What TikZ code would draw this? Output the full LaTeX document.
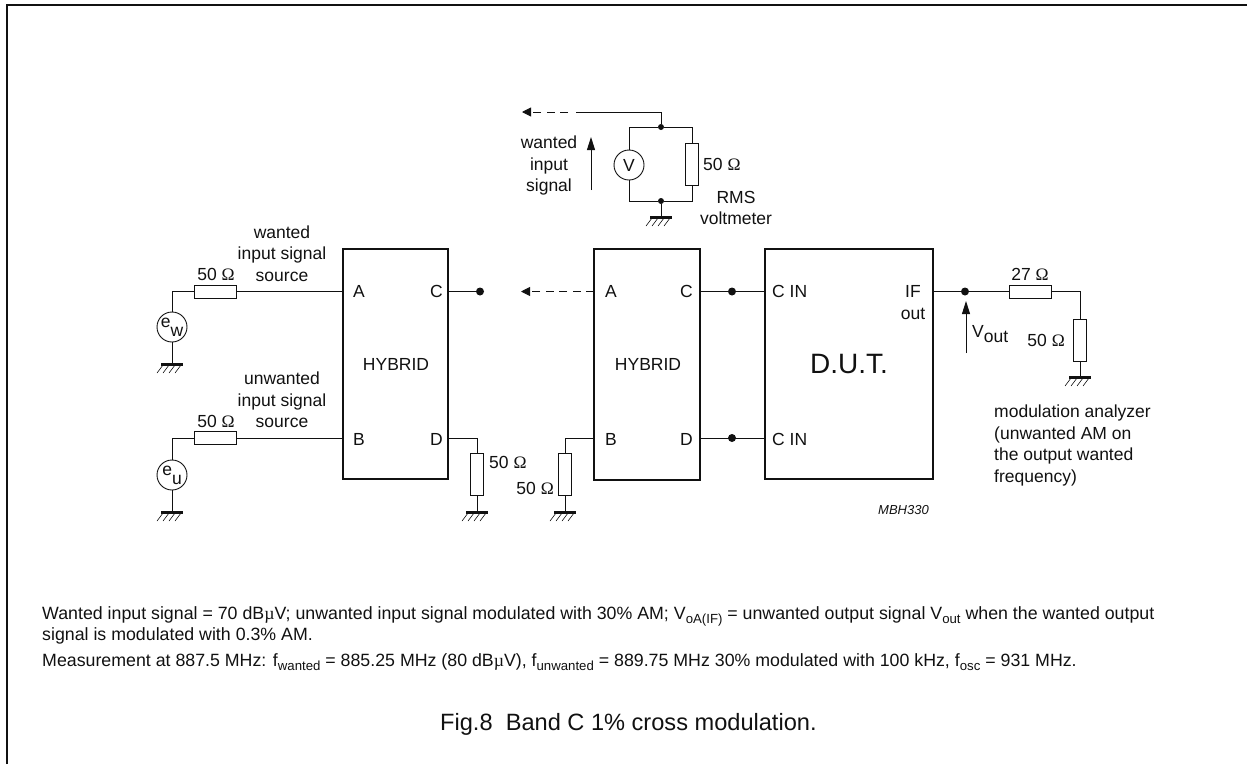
\documentclass[tikz,border=0pt]{standalone}
\usepackage{fontspec}
\setmainfont{Liberation Sans}
\newfontfamily\symfont{Liberation Serif}
\usetikzlibrary{arrows.meta}
\definecolor{ink}{HTML}{111111}
\newcommand{\Ohm}{{\symfont Ω}}
\newcommand{\Mu}{{\symfont µ}}
\newcommand{\Sb}[1]{\raisebox{-0.28em}{\fontsize{13.2}{13.2}\selectfont #1}}
\newcommand{\Lo}[1]{\raisebox{-0.3em}{#1}}
\tikzset{
  lbl/.style={inner sep=0pt, align=center, text=ink, font=\fontsize{17.5}{21.5}\selectfont},
  note/.style={lbl, anchor=base west, align=left, font=\fontsize{17.77}{17.77}\selectfont},
  block/.style={draw=ink, line width=2pt, fill=white, rectangle, inner sep=0pt},
  resh/.style={draw=ink, line width=0.9pt, fill=white, rectangle, inner sep=0pt, minimum width=42pt, minimum height=13pt},
  resv/.style={draw=ink, line width=0.9pt, fill=white, rectangle, inner sep=0pt, minimum width=13pt, minimum height=42pt},
  src/.style={draw=ink, line width=0.9pt, fill=white, circle, inner sep=0pt, minimum size=30pt, text=ink, font=\fontsize{17.5}{17.5}\selectfont},
  dot/.style={circle, fill=ink, inner sep=0pt, minimum size=8pt},
  jn/.style={circle, fill=ink, inner sep=0pt, minimum size=6pt},
  wire/.style={draw=ink, line width=0.9pt},
  tip/.style={-{Triangle[length=13pt,width=8pt]}, draw=ink, line width=0.9pt},
  dashtip/.style={-{Triangle[length=9pt,width=9pt]}, draw=ink, line width=0.9pt, dash pattern=on 8pt off 5.5pt}
}
\newcommand{\DrawGnd}[1]{% name of the coordinate on the bar
  \draw[ink, line width=3pt] ([xshift=-11pt]#1) -- ([xshift=11pt]#1);
  \foreach \hx in {-9,-3,3,9}
    \draw[ink, line width=0.6pt] ([xshift=\hx pt,yshift=-1pt]#1) -- ([xshift=\hx pt-6pt,yshift=-9pt]#1);
}
\begin{document}
\begin{tikzpicture}[x=1pt,y=-1pt]
  \useasboundingbox (0,0) rectangle (1247,764);
  \draw[ink, line width=1.4pt] (7,764) -- (7,5) -- (1247,5);

  % main blocks
  \node[block, minimum width=105pt, minimum height=230pt] (hybA) at (395.5,364) {};
  \node[block, minimum width=106pt, minimum height=231pt] (hybB) at (647,364.5) {};
  \node[block, minimum width=168pt, minimum height=230pt] (dut) at (849,364) {};
  \node[lbl] (hybAname) at (396,364) {HYBRID};
  \node[lbl] (hybBname) at (648,364) {HYBRID};
  \node[lbl, font=\fontsize{28}{28}\selectfont] (dutname) at (849,364) {D.U.T.};

  % pins
  \coordinate (pinAa) at (343,291.5);
  \coordinate (pinAb) at (343,438);
  \coordinate (pinAc) at (448,291.5);
  \coordinate (pinAd) at (448,438);
  \coordinate (pinBa) at (594,291.5);
  \coordinate (pinBb) at (594,438);
  \coordinate (pinBc) at (700,291.5);
  \coordinate (pinBd) at (700,438);
  \coordinate (pinDa) at (765,291.5);
  \coordinate (pinDb) at (765,438);
  \coordinate (pinDc) at (933,291.5);
  \node[lbl, anchor=west] (lblAa) at (353,291.5) {A};
  \node[lbl, anchor=west] (lblAb) at (353,439) {B};
  \node[lbl, anchor=east] (lblAc) at (443,291.5) {C};
  \node[lbl, anchor=east] (lblAd) at (443,439) {D};
  \node[lbl, anchor=west] (lblBa) at (605,291.5) {A};
  \node[lbl, anchor=west] (lblBb) at (605,439) {B};
  \node[lbl, anchor=east] (lblBc) at (693,291.5) {C};
  \node[lbl, anchor=east] (lblBd) at (693,439) {D};
  \node[lbl, anchor=west] (lblDa) at (772,291.5) {C IN};
  \node[lbl, anchor=west] (lblDb) at (772,439) {C IN};
  \node[lbl] (lblDc) at (913,302.5) {IF\\out};

  % left sources
  \node[resh] (resW) at (215,291.5) {};
  \node[resh] (resU) at (215,438) {};
  \node[src] (srcW) at (172,327) {\raisebox{0.2em}{e}\Lo{w}};
  \node[src] (srcU) at (172,475) {\raisebox{0.2em}{e}\Lo{u}};
  \coordinate (gndW) at (172,364);
  \coordinate (gndU) at (172,512);
  \draw[wire] (pinAa) -- (resW);
  \draw[wire] (resW) -| (srcW);
  \draw[wire] (srcW) -- (gndW);
  \draw[wire] (pinAb) -- (resU);
  \draw[wire] (resU) -| (srcU);
  \draw[wire] (srcU) -- (gndU);
  \DrawGnd{gndW}
  \DrawGnd{gndU}
  \node[lbl] (ohmW) at (216,274) {50 \Ohm};
  \node[lbl] (ohmU) at (216,421) {50 \Ohm};
  \node[lbl] (capW) at (282,253.5) {wanted\\input signal\\source};
  \node[lbl] (capU) at (282,400) {unwanted\\input signal\\source};

  % first hybrid, right side
  \node[dot] (dotAc) at (480,291.5) {};
  \node[resv] (resD) at (477,474) {};
  \coordinate (gndD) at (477,512);
  \draw[wire] (pinAc) -- (dotAc);
  \draw[wire] (pinAd) -| (resD);
  \draw[wire] (resD) -- (gndD);
  \DrawGnd{gndD}
  \node[lbl, anchor=west] (ohmD) at (489,462) {50 \Ohm};

  % second hybrid
  \coordinate (tipBa) at (521,291.5);
  \draw[dashtip] (pinBa) -- (tipBa);
  \node[resv] (resB) at (565,474) {};
  \coordinate (gndB) at (565,512);
  \draw[wire] (pinBb) -| (resB);
  \draw[wire] (resB) -- (gndB);
  \DrawGnd{gndB}
  \node[lbl, anchor=east] (ohmB) at (554,488) {50 \Ohm};
  \node[dot] (dotBc) at (732,291.5) {};
  \node[dot] (dotBd) at (732,438) {};
  \draw[wire] (pinBc) -- (pinDa);
  \draw[wire] (pinBd) -- (pinDb);

  % output side
  \node[dot] (dotOut) at (965,291.5) {};
  \node[resh] (resOutA) at (1030,291.5) {};
  \node[resv] (resOutB) at (1080,340) {};
  \coordinate (gndOut) at (1080,377);
  \draw[wire] (pinDc) -- (resOutA);
  \draw[wire] (resOutA) -| (resOutB);
  \draw[wire] (resOutB) -- (gndOut);
  \DrawGnd{gndOut}
  \coordinate (vTail) at (966,353);
  \coordinate (vTip) at (966,301);
  \draw[tip] (vTail) -- (vTip);
  \node[lbl, anchor=west] (vout) at (972,334) {V\Lo{out}};
  \node[lbl] (ohmOutA) at (1030,274) {27 \Ohm};
  \node[lbl, anchor=east] (ohmOutB) at (1065,340) {50 \Ohm};
  \node[lbl, anchor=north west, align=left] (analyzer) at (994,405) {modulation analyzer\\(unwanted AM on\\the output wanted\\frequency)};
  \node[lbl, anchor=east, font=\fontsize{13}{13}\selectfont\itshape] (code) at (929,510) {MBH330};

  % voltmeter
  \node[jn] (jnTop) at (661,127) {};
  \node[jn] (jnBot) at (661,201) {};
  \node[src] (volt) at (629,165) {V};
  \node[resv] (resV) at (692,164) {};
  \coordinate (gndV) at (661,217);
  \coordinate (feedEnd) at (522,112);
  \coordinate (feedDash) at (568,112);
  \coordinate (feedMid) at (576,112);
  \draw[wire] (jnTop) |- (feedMid);
  \draw[wire] (jnTop) -| (volt);
  \draw[wire] (volt) |- (jnBot);
  \draw[wire] (jnTop) -| (resV);
  \draw[wire] (resV) |- (jnBot);
  \draw[wire] (jnBot) -- (gndV);
  \draw[dashtip] (feedDash) -- (feedEnd);
  \DrawGnd{gndV}
  \coordinate (sigTail) at (591,190);
  \coordinate (sigTip) at (591,137);
  \draw[tip] (sigTail) -- (sigTip);
  \node[lbl] (wantedSig) at (549,165.5) {wanted\\input\\signal};
  \node[lbl, anchor=west] (ohmV) at (703,164) {50 \Ohm};
  \node[lbl] (rms) at (736,208) {RMS\\voltmeter};

  % notes
  \node[note] (noteA) at (42,619) {Wanted input signal = 70 dB\Mu V; unwanted input signal modulated with 30\% AM; V\Sb{oA(IF)} = unwanted output signal V\Sb{out} when the wanted output};
  \node[note] (noteB) at (42,640) {signal is modulated with 0.3\% AM.};
  \node[note] (noteC) at (42,666) {Measurement at 887.5 MHz: f\Sb{wanted} = 885.25 MHz (80 dB\Mu V), f\Sb{unwanted} = 889.75 MHz 30\% modulated with 100 kHz, f\Sb{osc} = 931 MHz.};
  \node[note, font=\fontsize{23.6}{23.6}\selectfont] (caption) at (440,730) {Fig.8\ \ Band C 1\% cross modulation.};
\end{tikzpicture}
\end{document}
